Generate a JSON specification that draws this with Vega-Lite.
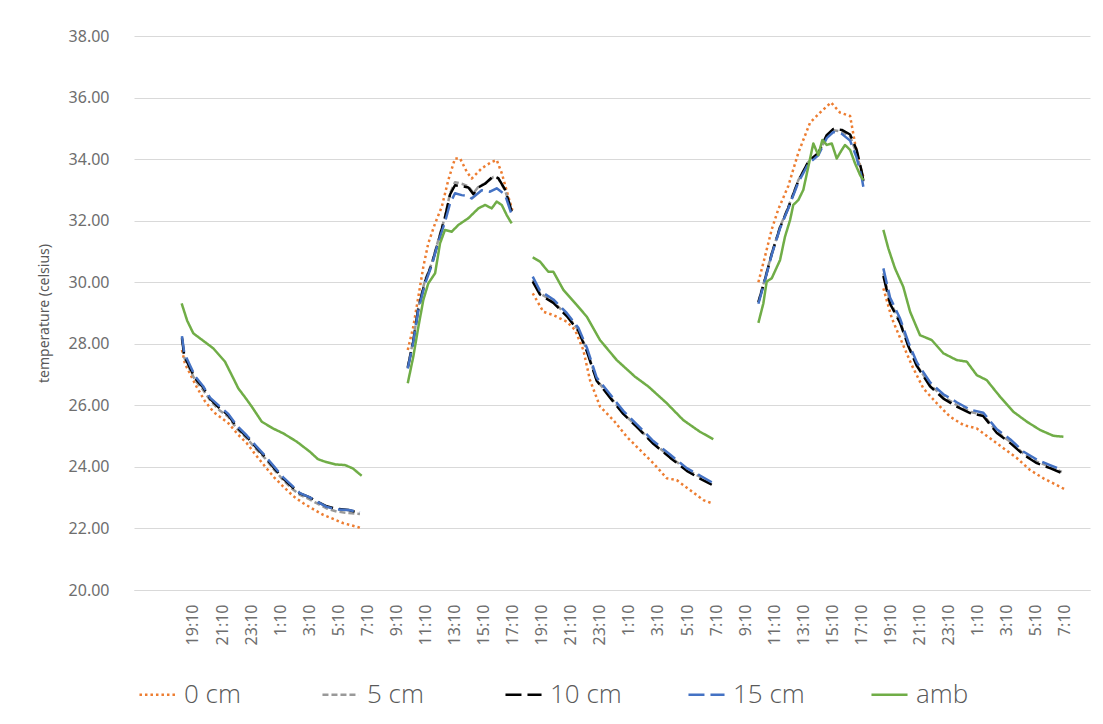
{
  "$schema": "https://vega.github.io/schema/vega-lite/v6.json",
  "width": 956,
  "height": 554,
  "autosize": {"type": "none"},
  "padding": {"left": 134, "top": 36, "right": 13, "bottom": 134},
  "background": "white",
  "datasets": {
    "temps": [
      {"series":"0 cm","seg":1,"hour":-0.76,"temp":27.8},{"series":"0 cm","seg":1,"hour":-0.55,"temp":27.35},{"series":"0 cm","seg":1,"hour":0.25,"temp":26.6},{"series":"0 cm","seg":1,"hour":0.8,"temp":26.15},{"series":"0 cm","seg":1,"hour":1.4,"temp":25.79},{"series":"0 cm","seg":1,"hour":2.43,"temp":25.42},{"series":"0 cm","seg":1,"hour":3.1,"temp":25.05},{"series":"0 cm","seg":1,"hour":3.7,"temp":24.77},{"series":"0 cm","seg":1,"hour":4.3,"temp":24.4},{"series":"0 cm","seg":1,"hour":4.96,"temp":24.01},{"series":"0 cm","seg":1,"hour":5.6,"temp":23.65},{"series":"0 cm","seg":1,"hour":6.21,"temp":23.36},{"series":"0 cm","seg":1,"hour":6.9,"temp":23.05},{"series":"0 cm","seg":1,"hour":7.59,"temp":22.82},{"series":"0 cm","seg":1,"hour":8.3,"temp":22.62},{"series":"0 cm","seg":1,"hour":8.97,"temp":22.44},{"series":"0 cm","seg":1,"hour":9.7,"temp":22.3},{"series":"0 cm","seg":1,"hour":10.34,"temp":22.17},{"series":"0 cm","seg":1,"hour":10.9,"temp":22.1},{"series":"0 cm","seg":1,"hour":11.38,"temp":22.04},{"series":"0 cm","seg":1,"hour":11.63,"temp":21.98},
      {"series":"0 cm","seg":2,"hour":14.78,"temp":27.8},{"series":"0 cm","seg":2,"hour":15.16,"temp":28.55},{"series":"0 cm","seg":2,"hour":15.51,"temp":29.53},{"series":"0 cm","seg":2,"hour":15.85,"temp":30.5},{"series":"0 cm","seg":2,"hour":16.19,"temp":31.26},{"series":"0 cm","seg":2,"hour":16.66,"temp":31.91},{"series":"0 cm","seg":2,"hour":17.12,"temp":32.45},{"series":"0 cm","seg":2,"hour":17.57,"temp":33.32},{"series":"0 cm","seg":2,"hour":18.03,"temp":34.02},{"series":"0 cm","seg":2,"hour":18.38,"temp":34.02},{"series":"0 cm","seg":2,"hour":18.84,"temp":33.59},{"series":"0 cm","seg":2,"hour":19.18,"temp":33.37},{"series":"0 cm","seg":2,"hour":19.87,"temp":33.7},{"series":"0 cm","seg":2,"hour":20.56,"temp":33.91},{"series":"0 cm","seg":2,"hour":20.9,"temp":33.97},{"series":"0 cm","seg":2,"hour":21.25,"temp":33.54},{"series":"0 cm","seg":2,"hour":21.7,"temp":32.78},{"series":"0 cm","seg":2,"hour":21.98,"temp":32.34},
      {"series":"0 cm","seg":3,"hour":23.38,"temp":29.64},{"series":"0 cm","seg":3,"hour":24.11,"temp":29.04},{"series":"0 cm","seg":3,"hour":24.8,"temp":28.93},{"series":"0 cm","seg":3,"hour":25.72,"temp":28.72},{"series":"0 cm","seg":3,"hour":26.29,"temp":28.45},{"series":"0 cm","seg":3,"hour":26.86,"temp":27.8},{"series":"0 cm","seg":3,"hour":27.32,"temp":26.82},{"series":"0 cm","seg":3,"hour":28.01,"temp":25.96},{"series":"0 cm","seg":3,"hour":28.93,"temp":25.52},{"series":"0 cm","seg":3,"hour":29.85,"temp":24.98},{"series":"0 cm","seg":3,"hour":30.76,"temp":24.55},{"series":"0 cm","seg":3,"hour":31.68,"temp":24.12},{"series":"0 cm","seg":3,"hour":32.6,"temp":23.63},{"series":"0 cm","seg":3,"hour":33.29,"temp":23.57},{"series":"0 cm","seg":3,"hour":34.2,"temp":23.25},{"series":"0 cm","seg":3,"hour":35.12,"temp":22.92},{"series":"0 cm","seg":3,"hour":35.7,"temp":22.82},
      {"series":"0 cm","seg":4,"hour":38.91,"temp":30.0},{"series":"0 cm","seg":4,"hour":39.37,"temp":30.85},{"series":"0 cm","seg":4,"hour":39.83,"temp":31.72},{"series":"0 cm","seg":4,"hour":40.28,"temp":32.37},{"series":"0 cm","seg":4,"hour":40.97,"temp":33.13},{"series":"0 cm","seg":4,"hour":41.66,"temp":34.21},{"series":"0 cm","seg":4,"hour":42.46,"temp":35.18},{"series":"0 cm","seg":4,"hour":43.15,"temp":35.51},{"series":"0 cm","seg":4,"hour":43.91,"temp":35.84},{"series":"0 cm","seg":4,"hour":44.53,"temp":35.51},{"series":"0 cm","seg":4,"hour":45.22,"temp":35.4},{"series":"0 cm","seg":4,"hour":45.56,"temp":34.51},{"series":"0 cm","seg":4,"hour":45.91,"temp":33.76},{"series":"0 cm","seg":4,"hour":46.13,"temp":33.43},
      {"series":"0 cm","seg":5,"hour":47.51,"temp":29.8},{"series":"0 cm","seg":5,"hour":48.09,"temp":28.83},{"series":"0 cm","seg":5,"hour":48.77,"temp":28.07},{"series":"0 cm","seg":5,"hour":49.46,"temp":27.31},{"series":"0 cm","seg":5,"hour":50.26,"temp":26.55},{"series":"0 cm","seg":5,"hour":51.18,"temp":26.07},{"series":"0 cm","seg":5,"hour":52.1,"temp":25.63},{"series":"0 cm","seg":5,"hour":53.02,"temp":25.36},{"series":"0 cm","seg":5,"hour":53.94,"temp":25.25},{"series":"0 cm","seg":5,"hour":54.85,"temp":24.93},{"series":"0 cm","seg":5,"hour":55.79,"temp":24.6},{"series":"0 cm","seg":5,"hour":56.71,"temp":24.28},{"series":"0 cm","seg":5,"hour":57.6,"temp":23.9},{"series":"0 cm","seg":5,"hour":58.52,"temp":23.63},{"series":"0 cm","seg":5,"hour":59.44,"temp":23.41},{"series":"0 cm","seg":5,"hour":60.08,"temp":23.25},

      {"series":"5 cm","seg":1,"hour":-0.76,"temp":28.15},{"series":"5 cm","seg":1,"hour":-0.6,"temp":27.55},{"series":"5 cm","seg":1,"hour":0.14,"temp":26.82},{"series":"5 cm","seg":1,"hour":0.7,"temp":26.5},{"series":"5 cm","seg":1,"hour":1.17,"temp":26.17},{"series":"5 cm","seg":1,"hour":1.8,"temp":25.85},{"series":"5 cm","seg":1,"hour":2.43,"temp":25.63},{"series":"5 cm","seg":1,"hour":3.0,"temp":25.25},{"series":"5 cm","seg":1,"hour":3.7,"temp":24.93},{"series":"5 cm","seg":1,"hour":4.3,"temp":24.6},{"series":"5 cm","seg":1,"hour":4.96,"temp":24.28},{"series":"5 cm","seg":1,"hour":5.6,"temp":23.9},{"series":"5 cm","seg":1,"hour":6.21,"temp":23.57},{"series":"5 cm","seg":1,"hour":6.8,"temp":23.3},{"series":"5 cm","seg":1,"hour":7.36,"temp":23.09},{"series":"5 cm","seg":1,"hour":8.0,"temp":22.95},{"series":"5 cm","seg":1,"hour":8.51,"temp":22.82},{"series":"5 cm","seg":1,"hour":9.2,"temp":22.65},{"series":"5 cm","seg":1,"hour":9.89,"temp":22.55},{"series":"5 cm","seg":1,"hour":10.7,"temp":22.5},{"series":"5 cm","seg":1,"hour":11.49,"temp":22.47},
      {"series":"5 cm","seg":2,"hour":14.78,"temp":27.25},{"series":"5 cm","seg":2,"hour":15.16,"temp":28.12},{"series":"5 cm","seg":2,"hour":15.51,"temp":29.2},{"series":"5 cm","seg":2,"hour":15.97,"temp":30.07},{"series":"5 cm","seg":2,"hour":16.43,"temp":30.61},{"series":"5 cm","seg":2,"hour":16.88,"temp":31.37},{"series":"5 cm","seg":2,"hour":17.34,"temp":32.13},{"series":"5 cm","seg":2,"hour":17.69,"temp":32.89},{"series":"5 cm","seg":2,"hour":18.03,"temp":33.25},{"series":"5 cm","seg":2,"hour":18.49,"temp":33.2},{"series":"5 cm","seg":2,"hour":18.95,"temp":33.12},{"series":"5 cm","seg":2,"hour":19.3,"temp":32.89},{"series":"5 cm","seg":2,"hour":19.64,"temp":33.1},{"series":"5 cm","seg":2,"hour":20.1,"temp":33.21},{"series":"5 cm","seg":2,"hour":20.67,"temp":33.42},{"series":"5 cm","seg":2,"hour":21.01,"temp":33.37},{"series":"5 cm","seg":2,"hour":21.47,"temp":32.99},{"series":"5 cm","seg":2,"hour":21.93,"temp":32.34},
      {"series":"5 cm","seg":3,"hour":23.38,"temp":30.07},{"series":"5 cm","seg":3,"hour":23.88,"temp":29.64},{"series":"5 cm","seg":3,"hour":24.8,"temp":29.37},{"series":"5 cm","seg":3,"hour":25.72,"temp":28.93},{"series":"5 cm","seg":3,"hour":26.52,"temp":28.45},{"series":"5 cm","seg":3,"hour":27.1,"temp":27.8},{"series":"5 cm","seg":3,"hour":27.78,"temp":26.82},{"series":"5 cm","seg":3,"hour":28.7,"temp":26.28},{"series":"5 cm","seg":3,"hour":29.61,"temp":25.74},{"series":"5 cm","seg":3,"hour":30.54,"temp":25.31},{"series":"5 cm","seg":3,"hour":31.68,"temp":24.77},{"series":"5 cm","seg":3,"hour":32.83,"temp":24.33},{"series":"5 cm","seg":3,"hour":33.98,"temp":23.9},{"series":"5 cm","seg":3,"hour":34.89,"temp":23.68},{"series":"5 cm","seg":3,"hour":35.7,"temp":23.47},
      {"series":"5 cm","seg":4,"hour":38.91,"temp":29.37},{"series":"5 cm","seg":4,"hour":39.37,"temp":30.13},{"series":"5 cm","seg":4,"hour":39.83,"temp":30.94},{"series":"5 cm","seg":4,"hour":40.4,"temp":31.8},{"series":"5 cm","seg":4,"hour":40.97,"temp":32.45},{"series":"5 cm","seg":4,"hour":41.66,"temp":33.32},{"series":"5 cm","seg":4,"hour":42.35,"temp":33.91},{"series":"5 cm","seg":4,"hour":43.03,"temp":34.18},{"series":"5 cm","seg":4,"hour":43.61,"temp":34.73},{"series":"5 cm","seg":4,"hour":44.07,"temp":34.94},{"series":"5 cm","seg":4,"hour":44.65,"temp":34.89},{"series":"5 cm","seg":4,"hour":45.22,"temp":34.73},{"series":"5 cm","seg":4,"hour":45.67,"temp":34.19},{"series":"5 cm","seg":4,"hour":46.02,"temp":33.54},{"series":"5 cm","seg":4,"hour":46.13,"temp":33.27},
      {"series":"5 cm","seg":5,"hour":47.51,"temp":30.29},{"series":"5 cm","seg":5,"hour":47.97,"temp":29.37},{"series":"5 cm","seg":5,"hour":48.66,"temp":28.72},{"series":"5 cm","seg":5,"hour":49.23,"temp":27.96},{"series":"5 cm","seg":5,"hour":49.81,"temp":27.31},{"series":"5 cm","seg":5,"hour":50.72,"temp":26.66},{"series":"5 cm","seg":5,"hour":51.64,"temp":26.28},{"series":"5 cm","seg":5,"hour":52.56,"temp":26.01},{"series":"5 cm","seg":5,"hour":53.48,"temp":25.79},{"series":"5 cm","seg":5,"hour":54.39,"temp":25.69},{"series":"5 cm","seg":5,"hour":55.32,"temp":25.14},{"series":"5 cm","seg":5,"hour":56.23,"temp":24.82},{"series":"5 cm","seg":5,"hour":57.14,"temp":24.44},{"series":"5 cm","seg":5,"hour":58.07,"temp":24.17},{"series":"5 cm","seg":5,"hour":58.98,"temp":24.01},{"series":"5 cm","seg":5,"hour":59.79,"temp":23.84},

      {"series":"10 cm","seg":1,"hour":-0.76,"temp":28.2},{"series":"10 cm","seg":1,"hour":-0.6,"temp":27.6},{"series":"10 cm","seg":1,"hour":0.14,"temp":26.88},{"series":"10 cm","seg":1,"hour":0.7,"temp":26.58},{"series":"10 cm","seg":1,"hour":1.17,"temp":26.22},{"series":"10 cm","seg":1,"hour":1.8,"temp":25.92},{"series":"10 cm","seg":1,"hour":2.43,"temp":25.68},{"series":"10 cm","seg":1,"hour":3.0,"temp":25.3},{"series":"10 cm","seg":1,"hour":3.7,"temp":24.98},{"series":"10 cm","seg":1,"hour":4.3,"temp":24.66},{"series":"10 cm","seg":1,"hour":4.96,"temp":24.33},{"series":"10 cm","seg":1,"hour":5.6,"temp":23.95},{"series":"10 cm","seg":1,"hour":6.21,"temp":23.62},{"series":"10 cm","seg":1,"hour":6.8,"temp":23.36},{"series":"10 cm","seg":1,"hour":7.36,"temp":23.14},{"series":"10 cm","seg":1,"hour":8.0,"temp":23.02},{"series":"10 cm","seg":1,"hour":8.51,"temp":22.88},{"series":"10 cm","seg":1,"hour":9.2,"temp":22.72},{"series":"10 cm","seg":1,"hour":9.89,"temp":22.64},{"series":"10 cm","seg":1,"hour":10.7,"temp":22.6},{"series":"10 cm","seg":1,"hour":11.49,"temp":22.5},
      {"series":"10 cm","seg":2,"hour":14.78,"temp":27.22},{"series":"10 cm","seg":2,"hour":15.16,"temp":28.08},{"series":"10 cm","seg":2,"hour":15.51,"temp":29.15},{"series":"10 cm","seg":2,"hour":15.97,"temp":30.02},{"series":"10 cm","seg":2,"hour":16.43,"temp":30.58},{"series":"10 cm","seg":2,"hour":16.88,"temp":31.33},{"series":"10 cm","seg":2,"hour":17.34,"temp":32.1},{"series":"10 cm","seg":2,"hour":17.69,"temp":32.85},{"series":"10 cm","seg":2,"hour":18.03,"temp":33.15},{"series":"10 cm","seg":2,"hour":18.49,"temp":33.12},{"series":"10 cm","seg":2,"hour":18.95,"temp":33.08},{"series":"10 cm","seg":2,"hour":19.3,"temp":32.86},{"series":"10 cm","seg":2,"hour":19.64,"temp":33.08},{"series":"10 cm","seg":2,"hour":20.1,"temp":33.2},{"series":"10 cm","seg":2,"hour":20.67,"temp":33.45},{"series":"10 cm","seg":2,"hour":21.01,"temp":33.38},{"series":"10 cm","seg":2,"hour":21.47,"temp":33.02},{"series":"10 cm","seg":2,"hour":21.93,"temp":32.3},
      {"series":"10 cm","seg":3,"hour":23.38,"temp":30.02},{"series":"10 cm","seg":3,"hour":23.88,"temp":29.6},{"series":"10 cm","seg":3,"hour":24.8,"temp":29.33},{"series":"10 cm","seg":3,"hour":25.72,"temp":28.9},{"series":"10 cm","seg":3,"hour":26.52,"temp":28.42},{"series":"10 cm","seg":3,"hour":27.1,"temp":27.76},{"series":"10 cm","seg":3,"hour":27.78,"temp":26.8},{"series":"10 cm","seg":3,"hour":28.7,"temp":26.25},{"series":"10 cm","seg":3,"hour":29.61,"temp":25.72},{"series":"10 cm","seg":3,"hour":30.54,"temp":25.3},{"series":"10 cm","seg":3,"hour":31.68,"temp":24.75},{"series":"10 cm","seg":3,"hour":32.83,"temp":24.3},{"series":"10 cm","seg":3,"hour":33.98,"temp":23.87},{"series":"10 cm","seg":3,"hour":34.89,"temp":23.62},{"series":"10 cm","seg":3,"hour":35.7,"temp":23.42},
      {"series":"10 cm","seg":4,"hour":38.91,"temp":29.35},{"series":"10 cm","seg":4,"hour":39.37,"temp":30.1},{"series":"10 cm","seg":4,"hour":39.83,"temp":30.92},{"series":"10 cm","seg":4,"hour":40.4,"temp":31.78},{"series":"10 cm","seg":4,"hour":40.97,"temp":32.42},{"series":"10 cm","seg":4,"hour":41.66,"temp":33.3},{"series":"10 cm","seg":4,"hour":42.35,"temp":33.92},{"series":"10 cm","seg":4,"hour":43.03,"temp":34.2},{"series":"10 cm","seg":4,"hour":43.61,"temp":34.78},{"series":"10 cm","seg":4,"hour":44.07,"temp":34.98},{"series":"10 cm","seg":4,"hour":44.65,"temp":34.95},{"series":"10 cm","seg":4,"hour":45.22,"temp":34.8},{"series":"10 cm","seg":4,"hour":45.67,"temp":34.3},{"series":"10 cm","seg":4,"hour":46.02,"temp":33.6},{"series":"10 cm","seg":4,"hour":46.13,"temp":33.3},
      {"series":"10 cm","seg":5,"hour":47.51,"temp":30.2},{"series":"10 cm","seg":5,"hour":47.97,"temp":29.3},{"series":"10 cm","seg":5,"hour":48.66,"temp":28.68},{"series":"10 cm","seg":5,"hour":49.23,"temp":27.92},{"series":"10 cm","seg":5,"hour":49.81,"temp":27.28},{"series":"10 cm","seg":5,"hour":50.72,"temp":26.62},{"series":"10 cm","seg":5,"hour":51.64,"temp":26.22},{"series":"10 cm","seg":5,"hour":52.56,"temp":25.96},{"series":"10 cm","seg":5,"hour":53.48,"temp":25.75},{"series":"10 cm","seg":5,"hour":54.39,"temp":25.65},{"series":"10 cm","seg":5,"hour":55.32,"temp":25.1},{"series":"10 cm","seg":5,"hour":56.23,"temp":24.78},{"series":"10 cm","seg":5,"hour":57.14,"temp":24.4},{"series":"10 cm","seg":5,"hour":58.07,"temp":24.12},{"series":"10 cm","seg":5,"hour":58.98,"temp":23.96},{"series":"10 cm","seg":5,"hour":59.79,"temp":23.8},

      {"series":"15 cm","seg":1,"hour":-0.76,"temp":28.25},{"series":"15 cm","seg":1,"hour":-0.6,"temp":27.7},{"series":"15 cm","seg":1,"hour":0.14,"temp":26.95},{"series":"15 cm","seg":1,"hour":0.7,"temp":26.62},{"series":"15 cm","seg":1,"hour":1.17,"temp":26.25},{"series":"15 cm","seg":1,"hour":1.8,"temp":25.98},{"series":"15 cm","seg":1,"hour":2.43,"temp":25.72},{"series":"15 cm","seg":1,"hour":3.0,"temp":25.35},{"series":"15 cm","seg":1,"hour":3.7,"temp":25.02},{"series":"15 cm","seg":1,"hour":4.3,"temp":24.7},{"series":"15 cm","seg":1,"hour":4.96,"temp":24.36},{"series":"15 cm","seg":1,"hour":5.6,"temp":24.0},{"series":"15 cm","seg":1,"hour":6.21,"temp":23.66},{"series":"15 cm","seg":1,"hour":6.8,"temp":23.4},{"series":"15 cm","seg":1,"hour":7.36,"temp":23.15},{"series":"15 cm","seg":1,"hour":8.0,"temp":23.02},{"series":"15 cm","seg":1,"hour":8.51,"temp":22.88},{"series":"15 cm","seg":1,"hour":9.2,"temp":22.7},{"series":"15 cm","seg":1,"hour":9.89,"temp":22.62},{"series":"15 cm","seg":1,"hour":10.7,"temp":22.6},{"series":"15 cm","seg":1,"hour":11.49,"temp":22.53},
      {"series":"15 cm","seg":2,"hour":14.78,"temp":27.2},{"series":"15 cm","seg":2,"hour":15.16,"temp":28.05},{"series":"15 cm","seg":2,"hour":15.51,"temp":29.1},{"series":"15 cm","seg":2,"hour":15.97,"temp":29.95},{"series":"15 cm","seg":2,"hour":16.43,"temp":30.55},{"series":"15 cm","seg":2,"hour":16.88,"temp":31.3},{"series":"15 cm","seg":2,"hour":17.34,"temp":31.95},{"series":"15 cm","seg":2,"hour":17.69,"temp":32.56},{"series":"15 cm","seg":2,"hour":18.03,"temp":32.89},{"series":"15 cm","seg":2,"hour":18.49,"temp":32.83},{"series":"15 cm","seg":2,"hour":18.95,"temp":32.8},{"series":"15 cm","seg":2,"hour":19.18,"temp":32.72},{"series":"15 cm","seg":2,"hour":19.64,"temp":32.9},{"series":"15 cm","seg":2,"hour":19.87,"temp":32.99},{"series":"15 cm","seg":2,"hour":20.44,"temp":32.94},{"series":"15 cm","seg":2,"hour":20.9,"temp":33.05},{"series":"15 cm","seg":2,"hour":21.47,"temp":32.85},{"series":"15 cm","seg":2,"hour":21.93,"temp":32.2},
      {"series":"15 cm","seg":3,"hour":23.38,"temp":30.18},{"series":"15 cm","seg":3,"hour":23.88,"temp":29.72},{"series":"15 cm","seg":3,"hour":24.8,"temp":29.44},{"series":"15 cm","seg":3,"hour":25.72,"temp":29.0},{"series":"15 cm","seg":3,"hour":26.52,"temp":28.52},{"series":"15 cm","seg":3,"hour":27.1,"temp":27.88},{"series":"15 cm","seg":3,"hour":27.78,"temp":26.9},{"series":"15 cm","seg":3,"hour":28.7,"temp":26.36},{"series":"15 cm","seg":3,"hour":29.61,"temp":25.82},{"series":"15 cm","seg":3,"hour":30.54,"temp":25.38},{"series":"15 cm","seg":3,"hour":31.68,"temp":24.84},{"series":"15 cm","seg":3,"hour":32.83,"temp":24.4},{"series":"15 cm","seg":3,"hour":33.98,"temp":23.96},{"series":"15 cm","seg":3,"hour":34.89,"temp":23.72},{"series":"15 cm","seg":3,"hour":35.7,"temp":23.5},
      {"series":"15 cm","seg":4,"hour":38.91,"temp":29.3},{"series":"15 cm","seg":4,"hour":39.37,"temp":30.08},{"series":"15 cm","seg":4,"hour":39.83,"temp":30.9},{"series":"15 cm","seg":4,"hour":40.4,"temp":31.75},{"series":"15 cm","seg":4,"hour":40.97,"temp":32.4},{"series":"15 cm","seg":4,"hour":41.66,"temp":33.25},{"series":"15 cm","seg":4,"hour":42.35,"temp":33.85},{"series":"15 cm","seg":4,"hour":43.03,"temp":34.12},{"series":"15 cm","seg":4,"hour":43.61,"temp":34.68},{"series":"15 cm","seg":4,"hour":44.07,"temp":34.88},{"series":"15 cm","seg":4,"hour":44.65,"temp":34.82},{"series":"15 cm","seg":4,"hour":45.22,"temp":34.6},{"series":"15 cm","seg":4,"hour":45.67,"temp":34.05},{"series":"15 cm","seg":4,"hour":46.02,"temp":33.4},{"series":"15 cm","seg":4,"hour":46.13,"temp":33.1},
      {"series":"15 cm","seg":5,"hour":47.51,"temp":30.45},{"series":"15 cm","seg":5,"hour":47.97,"temp":29.5},{"series":"15 cm","seg":5,"hour":48.66,"temp":28.82},{"series":"15 cm","seg":5,"hour":49.23,"temp":28.05},{"series":"15 cm","seg":5,"hour":49.81,"temp":27.4},{"series":"15 cm","seg":5,"hour":50.72,"temp":26.75},{"series":"15 cm","seg":5,"hour":51.64,"temp":26.36},{"series":"15 cm","seg":5,"hour":52.56,"temp":26.1},{"series":"15 cm","seg":5,"hour":53.48,"temp":25.86},{"series":"15 cm","seg":5,"hour":54.39,"temp":25.76},{"series":"15 cm","seg":5,"hour":55.32,"temp":25.22},{"series":"15 cm","seg":5,"hour":56.23,"temp":24.9},{"series":"15 cm","seg":5,"hour":57.14,"temp":24.5},{"series":"15 cm","seg":5,"hour":58.07,"temp":24.24},{"series":"15 cm","seg":5,"hour":58.98,"temp":24.06},{"series":"15 cm","seg":5,"hour":59.79,"temp":23.9},

      {"series":"amb","seg":1,"hour":-0.78,"temp":29.31},{"series":"amb","seg":1,"hour":-0.4,"temp":28.75},{"series":"amb","seg":1,"hour":0.02,"temp":28.34},{"series":"amb","seg":1,"hour":0.7,"temp":28.1},{"series":"amb","seg":1,"hour":1.4,"temp":27.85},{"series":"amb","seg":1,"hour":2.2,"temp":27.42},{"series":"amb","seg":1,"hour":2.7,"temp":26.95},{"series":"amb","seg":1,"hour":3.12,"temp":26.55},{"series":"amb","seg":1,"hour":3.6,"temp":26.25},{"series":"amb","seg":1,"hour":4.04,"temp":25.96},{"series":"amb","seg":1,"hour":4.73,"temp":25.47},{"series":"amb","seg":1,"hour":5.5,"temp":25.25},{"series":"amb","seg":1,"hour":6.21,"temp":25.09},{"series":"amb","seg":1,"hour":7.14,"temp":24.82},{"series":"amb","seg":1,"hour":8.05,"temp":24.49},{"series":"amb","seg":1,"hour":8.6,"temp":24.25},{"series":"amb","seg":1,"hour":9.08,"temp":24.17},{"series":"amb","seg":1,"hour":9.8,"temp":24.08},{"series":"amb","seg":1,"hour":10.46,"temp":24.06},{"series":"amb","seg":1,"hour":11.0,"temp":23.95},{"series":"amb","seg":1,"hour":11.61,"temp":23.71},
      {"series":"amb","seg":2,"hour":14.78,"temp":26.72},{"series":"amb","seg":2,"hour":15.16,"temp":27.58},{"series":"amb","seg":2,"hour":15.51,"temp":28.55},{"series":"amb","seg":2,"hour":15.85,"temp":29.42},{"series":"amb","seg":2,"hour":16.19,"temp":29.96},{"series":"amb","seg":2,"hour":16.66,"temp":30.29},{"series":"amb","seg":2,"hour":17.0,"temp":31.26},{"series":"amb","seg":2,"hour":17.34,"temp":31.7},{"series":"amb","seg":2,"hour":17.8,"temp":31.64},{"series":"amb","seg":2,"hour":18.26,"temp":31.86},{"series":"amb","seg":2,"hour":18.95,"temp":32.08},{"series":"amb","seg":2,"hour":19.64,"temp":32.4},{"series":"amb","seg":2,"hour":20.1,"temp":32.51},{"series":"amb","seg":2,"hour":20.56,"temp":32.4},{"series":"amb","seg":2,"hour":20.9,"temp":32.62},{"series":"amb","seg":2,"hour":21.25,"temp":32.51},{"series":"amb","seg":2,"hour":21.59,"temp":32.18},{"series":"amb","seg":2,"hour":21.93,"temp":31.91},
      {"series":"amb","seg":3,"hour":23.38,"temp":30.81},{"series":"amb","seg":3,"hour":23.88,"temp":30.67},{"series":"amb","seg":3,"hour":24.45,"temp":30.34},{"series":"amb","seg":3,"hour":24.8,"temp":30.34},{"series":"amb","seg":3,"hour":25.49,"temp":29.75},{"series":"amb","seg":3,"hour":26.41,"temp":29.26},{"series":"amb","seg":3,"hour":27.1,"temp":28.88},{"series":"amb","seg":3,"hour":28.01,"temp":28.12},{"series":"amb","seg":3,"hour":29.16,"temp":27.47},{"series":"amb","seg":3,"hour":30.42,"temp":26.93},{"series":"amb","seg":3,"hour":31.34,"temp":26.61},{"series":"amb","seg":3,"hour":32.6,"temp":26.07},{"series":"amb","seg":3,"hour":33.74,"temp":25.52},{"series":"amb","seg":3,"hour":34.89,"temp":25.14},{"series":"amb","seg":3,"hour":35.81,"temp":24.9},
      {"series":"amb","seg":4,"hour":38.91,"temp":28.68},{"series":"amb","seg":4,"hour":39.25,"temp":29.31},{"series":"amb","seg":4,"hour":39.48,"temp":30.02},{"series":"amb","seg":4,"hour":39.83,"temp":30.13},{"series":"amb","seg":4,"hour":40.4,"temp":30.72},{"series":"amb","seg":4,"hour":40.74,"temp":31.48},{"series":"amb","seg":4,"hour":41.09,"temp":32.02},{"series":"amb","seg":4,"hour":41.31,"temp":32.51},{"series":"amb","seg":4,"hour":41.66,"temp":32.67},{"series":"amb","seg":4,"hour":42.0,"temp":33.0},{"series":"amb","seg":4,"hour":42.35,"temp":33.76},{"series":"amb","seg":4,"hour":42.69,"temp":34.51},{"series":"amb","seg":4,"hour":43.03,"temp":34.13},{"series":"amb","seg":4,"hour":43.31,"temp":34.62},{"series":"amb","seg":4,"hour":43.61,"temp":34.46},{"series":"amb","seg":4,"hour":43.96,"temp":34.51},{"series":"amb","seg":4,"hour":44.3,"temp":34.02},{"series":"amb","seg":4,"hour":44.65,"temp":34.3},{"series":"amb","seg":4,"hour":44.87,"temp":34.46},{"series":"amb","seg":4,"hour":45.22,"temp":34.3},{"series":"amb","seg":4,"hour":45.56,"temp":33.86},{"series":"amb","seg":4,"hour":45.91,"temp":33.48},{"series":"amb","seg":4,"hour":46.13,"temp":33.32},
      {"series":"amb","seg":5,"hour":47.51,"temp":31.7},{"series":"amb","seg":5,"hour":47.85,"temp":31.1},{"series":"amb","seg":5,"hour":48.31,"temp":30.45},{"series":"amb","seg":5,"hour":48.88,"temp":29.85},{"series":"amb","seg":5,"hour":49.35,"temp":29.04},{"series":"amb","seg":5,"hour":50.03,"temp":28.28},{"series":"amb","seg":5,"hour":50.84,"temp":28.12},{"series":"amb","seg":5,"hour":51.64,"temp":27.69},{"series":"amb","seg":5,"hour":52.56,"temp":27.47},{"series":"amb","seg":5,"hour":53.25,"temp":27.42},{"series":"amb","seg":5,"hour":53.94,"temp":26.98},{"series":"amb","seg":5,"hour":54.62,"temp":26.82},{"series":"amb","seg":5,"hour":55.54,"temp":26.28},{"series":"amb","seg":5,"hour":56.46,"temp":25.79},{"series":"amb","seg":5,"hour":57.38,"temp":25.47},{"series":"amb","seg":5,"hour":58.29,"temp":25.2},{"series":"amb","seg":5,"hour":59.21,"temp":25.01},{"series":"amb","seg":5,"hour":59.9,"temp":24.98}
    ]
  },
  "data": {"name": "temps"},
  "mark": {"type": "line", "strokeWidth": 2.5, "strokeCap": "butt", "strokeJoin": "round"},
  "encoding": {
    "x": {
      "field": "hour", "type": "quantitative",
      "scale": {"domain": [-4.06, 61.73], "nice": false, "zero": false},
      "axis": {
        "title": null,
        "values": [0,2,4,6,8,10,12,14,16,18,20,22,24,26,28,30,32,34,36,38,40,42,44,46,48,50,52,54,56,58,60],
        "labelExpr": "((19 + datum.value) % 24) + ':10'",
        "labelAngle": -90, "labelOverlap": false, "labelFlush": false,
        "grid": false, "ticks": false, "domain": true, "domainColor": "#d9d9d9", "domainWidth": 1,
        "labelPadding": 14, "labelFont": "Noto Sans", "labelFontSize": 16, "labelColor": "#6e6e6e"
      }
    },
    "y": {
      "field": "temp", "type": "quantitative",
      "scale": {"domain": [20, 38], "nice": false, "zero": false},
      "axis": {
        "title": "temperature (celsius)",
        "values": [20,22,24,26,28,30,32,34,36,38],
        "format": ".2f",
        "grid": true, "gridColor": "#d9d9d9", "gridWidth": 1,
        "domain": false, "ticks": false,
        "labelPadding": 25, "labelFont": "Noto Sans", "labelFontSize": 16, "labelColor": "#6e6e6e",
        "titleFont": "Noto Sans", "titleFontSize": 14, "titleFontWeight": "normal", "titleColor": "#595959",
        "titleX": -90, "titleBaseline": "middle"
      }
    },
    "color": {
      "field": "series", "type": "nominal",
      "scale": {"domain": ["0 cm","5 cm","10 cm","15 cm","amb"], "range": ["#ED7D31","#999999","#000000","#4472C4","#70AD47"]},
      "legend": {"title": null}
    },
    "strokeDash": {
      "field": "series", "type": "nominal",
      "scale": {"domain": ["0 cm","5 cm","10 cm","15 cm","amb"], "range": [[2.5,3],[6,3],[16,6],[16,6],[1,0]]},
      "legend": {"title": null}
    },
    "detail": {"field": "seg", "type": "nominal"}
  },
  "config": {
    "view": {"stroke": null},
    "legend": {
      "orient": "none", "legendX": 4, "legendY": 639,
      "direction": "horizontal", "columns": 5, "gridAlign": "all", "columnPadding": 61,
      "padding": 0,
      "symbolType": "stroke", "symbolSize": 1300, "symbolStrokeWidth": 2.5,
      "labelFont": "Open Sans", "labelFontSize": 26, "labelFontWeight": 300, "labelColor": "#595959", "labelOffset": 7, "labelLimit": 200
    }
  }
}
